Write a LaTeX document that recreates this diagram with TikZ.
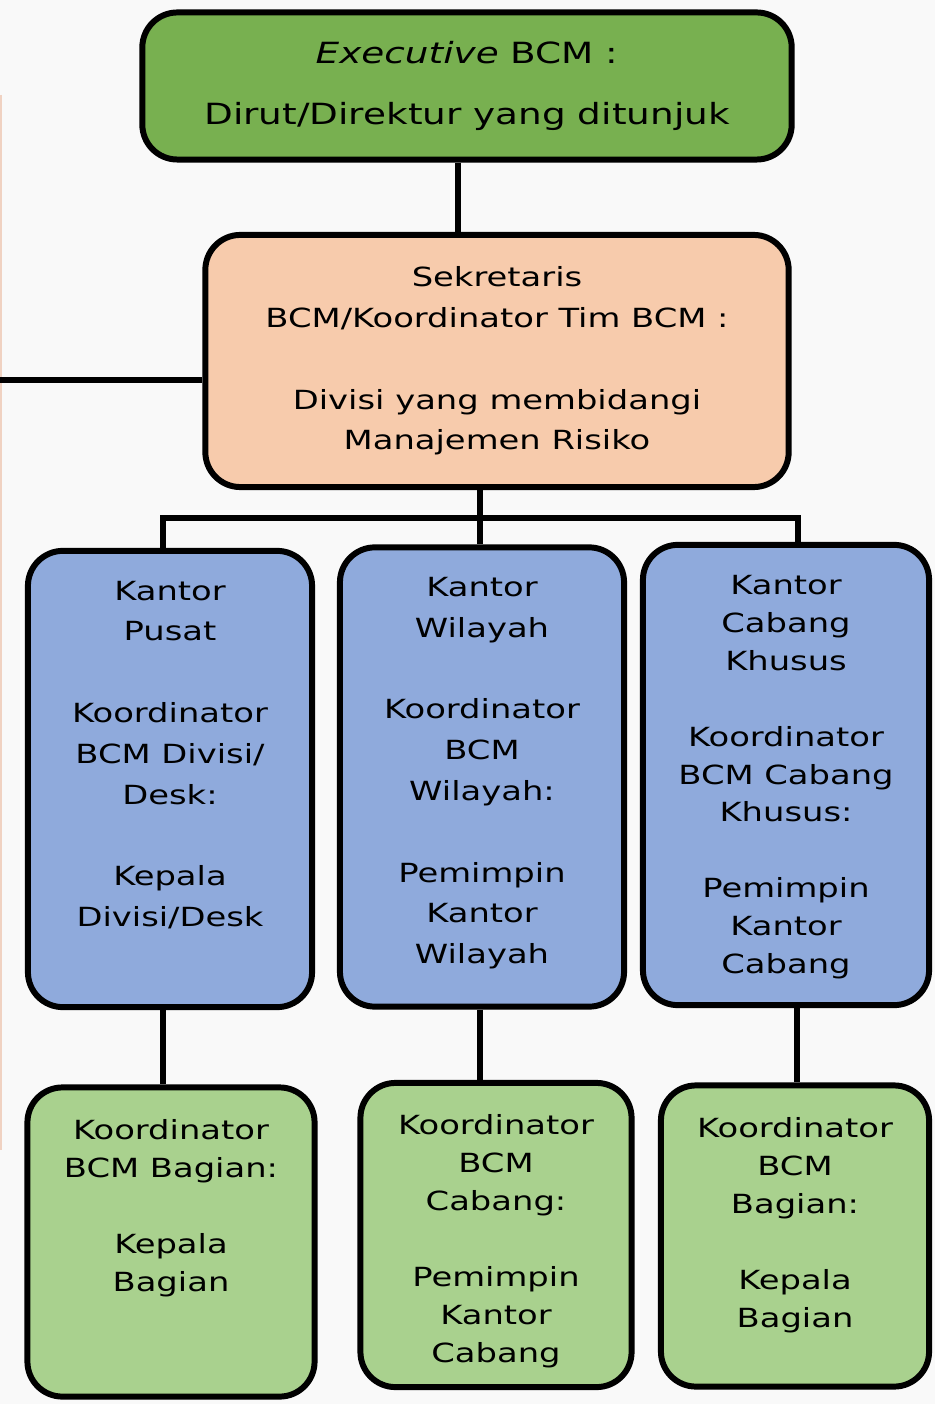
\documentclass[tikz,border=0pt]{standalone}
\usepackage{fontspec}
\setmainfont[FakeStretch=1.28]{DejaVu Sans}
\definecolor{hijautua}{HTML}{78B050}
\definecolor{peach}{HTML}{F7CBAC}
\definecolor{biru}{HTML}{8FAADC}
\definecolor{hijaumuda}{HTML}{A9D18E}
\definecolor{latar}{HTML}{F9F9F9}
\definecolor{pinggir}{HTML}{F0D2C2}
\tikzset{
  kotak/.style={draw=black, line width=1.7pt, rounded corners=0.35cm, inner sep=0pt},
  garis/.style={line width=1.7pt},
  tulisan/.style={font=\fontsize{7.5}{11.6}\selectfont},
  tulisankecil/.style={font=\fontsize{7.5}{10.8}\selectfont}
}
\begin{document}
\begin{tikzpicture}[x=0.01cm,y=-0.01cm]
    \useasboundingbox (0,0) rectangle (935,1404);
    \fill[latar] (0,0) rectangle (935,1404);
    \draw[line width=0.8pt,pinggir] (1,95) -- (1,1150);

    \node[kotak,fill=hijautua,minimum width=6.49cm,minimum height=1.47cm,align=center,font=\fontsize{8.3}{11.6}\selectfont] (exec) at (467,86) {\textit{Executive} BCM :\\[6pt]Dirut/Direktur yang ditunjuk};
    \node[kotak,fill=peach,minimum width=5.83cm,minimum height=2.52cm,align=center,tulisan] (sek) at (497,361) {Sekretaris\\BCM/Koordinator Tim BCM :\\[11.6pt]Divisi yang membidangi\\Manajemen Risiko};

    \node[kotak,fill=biru,minimum width=2.84cm,minimum height=4.56cm,tulisan] (kp) at (170,779) {\parbox[c][3.96cm][t]{2.7cm}{\centering Kantor\\Pusat\\[11.6pt]Koordinator\\BCM Divisi/\\Desk:\\[11.6pt]Kepala\\Divisi/Desk}};
    \node[kotak,fill=biru,minimum width=2.84cm,minimum height=4.59cm,tulisan] (kw) at (482,777) {\parbox[c][3.99cm][t]{2.7cm}{\centering Kantor\\Wilayah\\[11.6pt]Koordinator\\BCM\\Wilayah:\\[11.6pt]Pemimpin\\Kantor\\Wilayah}};
    \node[kotak,fill=biru,minimum width=2.86cm,minimum height=4.6cm,tulisankecil] (kck) at (786,775) {\parbox[c][4.0cm][t]{2.7cm}{\centering Kantor\\Cabang\\Khusus\\[10.8pt]Koordinator\\BCM Cabang\\Khusus:\\[10.8pt]Pemimpin\\Kantor\\Cabang}};

    \node[kotak,fill=hijaumuda,minimum width=2.87cm,minimum height=3.09cm,tulisankecil] (kb1) at (171,1242) {\parbox[c][2.45cm][t]{2.7cm}{\centering Koordinator\\BCM Bagian:\\[10.8pt]Kepala\\Bagian}};
    \node[kotak,fill=hijaumuda,minimum width=2.71cm,minimum height=3.04cm,tulisankecil] (kb2) at (496,1235) {\parbox[c][2.4cm][t]{2.6cm}{\centering Koordinator\\BCM\\Cabang:\\[10.8pt]Pemimpin\\Kantor\\Cabang}};
    \node[kotak,fill=hijaumuda,minimum width=2.68cm,minimum height=3.01cm,tulisankecil] (kb3) at (795,1236) {\parbox[c][2.37cm][t]{2.6cm}{\centering Koordinator\\BCM\\Bagian:\\[10.8pt]Kepala\\Bagian}};

    \coordinate (bus) at (480,518);
    \coordinate (kiri) at (0,380);
    \draw[garis] ([xshift=-0.09cm]exec.south) -- ([xshift=-0.09cm]exec.south |- sek.north);
    \draw[garis] (kiri -| sek.west) -- (kiri);
    \draw[garis] (bus |- sek.south) -- (bus |- kw.north);
    \draw[garis] ([xshift=-0.07cm]kp.north) |- (bus) -| ([xshift=0.12cm]kck.north);
    \draw[garis] ([xshift=-0.07cm]kp.south) -- ([xshift=-0.07cm]kp.south |- kb1.north);
    \draw[garis] (bus |- kw.south) -- (bus |- kb2.north);
    \draw[garis] ([xshift=0.11cm]kck.south) -- ([xshift=0.11cm]kck.south |- kb3.north);
\end{tikzpicture}
\end{document}
